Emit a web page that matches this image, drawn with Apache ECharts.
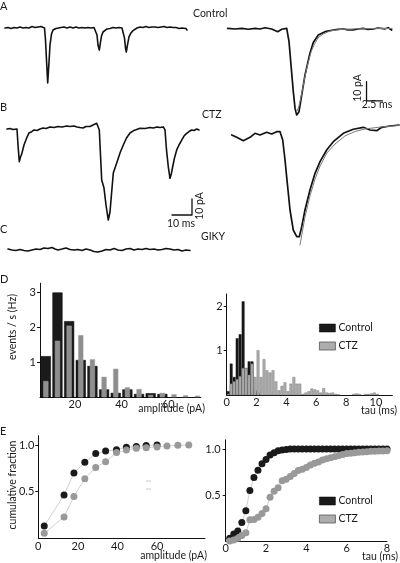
<!DOCTYPE html>
<html><head><meta charset="utf-8">
<script src="https://cdn.jsdelivr.net/npm/echarts@6/dist/echarts.min.js"></script>
<style>html,body{margin:0;padding:0;background:#fff}#c{width:400px;height:563px}</style>
</head><body><div id="c"></div>
<script>
// ---------------- DATA ----------------
// raw traces: [time (ms), current (pA)]
const traceControl = [[0.5,0],[2,0.3],[3.5,-0.3],[5,0.3],[6.5,0],[8,0.6],[9.5,0],[11,0.3],[12.5,0],[14,0.9],[15.5,0.3],[17,0.6],[18.5,0.9],[19.5,0.3],[20.25,0],[20.75,-7.5],[21.25,-20],[21.85,-34.4],[22.5,-21.3],[23,-10.6],[23.75,-3.8],[24.5,-1.3],[26,-0.3],[27,0.6],[28.5,0.3],[30,0.6],[31.5,0],[33,0.6],[34.5,0],[36,0.6],[37.5,0],[39,0.3],[40.5,0],[42,0.3],[43.5,0],[45,0.3],[46,0],[46.5,-4.4],[47,-10.6],[47.65,-13.8],[48.25,-8.8],[48.75,-5],[49.5,-2.5],[50.5,-1.6],[51.5,-0.6],[53,-0.3],[54.5,0.3],[56,0],[57.5,0.3],[59,0],[59.75,0],[60.25,-6.3],[60.75,-12.5],[61.15,-15],[61.75,-10.6],[62.5,-5.6],[63.5,-3.1],[64.5,-1.6],[65.5,-0.6],[66.5,0],[68,0.6],[69.5,0.3],[71,0.9],[72.5,0.3],[74,0.6],[75.5,0.6],[77,0.3],[78.5,0.6],[80,0.9],[81.5,0.3],[83,0.6],[84.5,0.3],[86,0.3],[87.5,-0.3],[89,0],[90,-0.6],[91,-0.3],[91.5,-1.3]];
const traceCtz = [[1.5,0],[3,0.3],[4.5,-0.3],[5.5,0.3],[6.5,0],[7,-10],[7.65,-20.4],[8.25,-17.5],[8.85,-15.6],[10,-10],[11.35,-5.6],[12.5,-2.5],[13.85,-1.7],[15,-0.6],[16.5,-0.9],[18,0],[19.5,0.6],[21,0.3],[23,1.3],[25,0.9],[27,1.6],[29,1.3],[31.35,1.9],[33,1.6],[35,1.9],[36.5,1.3],[38,0.9],[39.5,0.6],[41,1.6],[43,1.6],[44.5,2.5],[46.35,3.6],[47.25,2.5],[47.65,-0.6],[48.25,-16.3],[48.85,-31.9],[50,-36.9],[51,-47.5],[52.15,-56.9],[53,-51.9],[53.5,-44.4],[54.65,-27.5],[56.35,-21.3],[58,-15],[59.65,-10],[61.25,-5.6],[63,-2.5],[65,-0.9],[68,0.4],[70.5,0.3],[73,0.9],[74.65,0.6],[76.5,1.3],[78,0.9],[79.65,1.3],[80.5,-0.6],[81.25,-13.1],[82.15,-23.6],[83,-30.8],[83.65,-28.1],[84.35,-23.6],[85.25,-18.1],[86.35,-13.1],[87.5,-10],[88.85,-6.9],[90,-4.4],[91.35,-2.7],[92.5,-1.6],[93.85,-0.6],[95,-0.9],[96.35,0],[97.5,-0.6]];
const traceGiky = [[2,0.6],[4,0],[6,-0.3],[8,0.3],[10,-0.3],[12,-0.6],[14,0],[16,0.6],[18,0.3],[20,1.3],[22,0.9],[24,1.6],[25.5,0.6],[27,0],[29,0.6],[31,1.3],[33,0.3],[35,0],[37,0.3],[39,-0.3],[41,0.6],[43,0],[45,-0.9],[47,-1.3],[49,-0.6],[51,0.3],[53,0],[55,0.9],[57,0],[59,-0.3],[61,0.6],[63,0.9],[65,0],[67,0.6],[69,0.3],[71,0.9],[73,0.3],[75,0.6],[77,0],[79,0.3],[81,0.9],[83,0.6],[85,0],[87,0.3],[89,-0.6],[91,0],[93,-0.3]];
// averaged events and fits: [time (ms), current (pA)]
const avgControl = [[0.1,0.1],[1.25,-0.26],[2.3,0.1],[3.33,-0.4],[4.38,0.1],[5.16,-0.26],[5.94,0.4],[6.98,-0.26],[7.92,-1.66],[8.55,-0.4],[9.33,0.1],[9.69,-6.8],[10.0,-18.9],[10.36,-32.7],[10.63,-41.3],[10.89,-44.8],[11.25,-43.1],[11.67,-34.5],[12.19,-24.1],[12.97,-12.7],[13.48,-7.3],[14.27,-3.4],[15.31,-1.66],[16.61,-0.78],[17.34,-0.5],[18.17,-0.26],[18.9,-0.67],[19.73,-0.78],[20.47,-0.26],[21.3,0.1],[22.03,-0.5],[22.86,-0.26],[23.6,0.26],[23.9,0.1],[24.7,-0.16],[25.2,0.4],[25.73,-0.78]];
const fitControl = [[10.86,-43.3],[11.25,-40.2],[11.72,-32.9],[12.19,-24.6],[12.66,-17.9],[13.13,-12.2],[13.59,-8.5],[14.22,-4.9],[15.0,-2.85],[16.1,-1.3],[17.66,-0.5],[20.0,-0.16],[23.1,-0.05],[25.8,0]];
const avgCtz = [[0.11,-0.52],[0.89,-1.71],[1.92,-3.47],[2.97,-1.71],[3.75,0.36],[4.53,-0.52],[5.58,0.88],[6.36,0],[7.14,1.19],[7.66,1.19],[8.08,-3.11],[8.44,-13.47],[8.8,-25.54],[9.22,-39.38],[9.73,-49.74],[10.27,-53.21],[10.67,-53.21],[11.05,-48.03],[11.56,-39.38],[12.34,-29.02],[13.13,-20.36],[13.91,-14.35],[14.95,-8.29],[15.98,-3.99],[17.55,0.36],[19.11,2.44],[20.67,3.47],[21.72,2.07],[22.77,1.71],[23.55,3.47],[24.84,4.15],[26.25,4.66]];
const fitCtz = [[10.78,-57.5],[11.09,-51.8],[11.56,-43.0],[12.34,-32.1],[13.13,-23.3],[13.91,-16.6],[15.0,-9.8],[16.25,-5.2],[17.81,-1.0],[19.38,1.3],[20.94,2.6],[23.28,3.6],[26.25,4.4]];
// scale bars: [time (ms), current (pA)]
const scaleBarAvg = [[21.8,-27.5],[21.8,-37.5],[24.3,-37.5]];   // 10 pA, 2.5 ms
const scaleBarRaw = [[94,-43.75],[94,-53.75],[84,-53.75]];      // 10 pA, 10 ms

// amplitude histogram (bin centres, pA) and event rates (Hz)
const ampBins = [7.5,12.5,17.5,22.5,27.5,32.5,37.5,42.5,47.5,52.5,57.5,62.5,67.5,72.5];
const ampControl = [1.16,2.98,2.16,1.05,0.88,0.21,0.11,0.21,0.08,0.10,0.08,0,0,0];
const ampCtz = [0.45,1.60,2.03,1.76,1.07,0.57,0.80,0.27,0.22,0.05,0.11,0.07,0.04,0.03];
// tau histogram (bin centres, ms)
const tauBins = [0.1,0.3,0.5,0.7,0.9,1.1,1.3,1.5,1.7,1.9,2.1,2.3,2.5,2.7,2.9,3.1,3.3,3.5,3.7,3.9,4.1,4.3,4.5,4.7,4.9,5.1,5.3,5.5,5.7,5.9,6.1,6.3,6.5,6.7,6.9,7.1,7.3,7.5,7.7,7.9,8.1,8.3,8.5,8.7,8.9,9.1,9.3,9.5,9.7,9.9,10.1];
const tauControl = [0.08,0.7,0.4,1.27,1.36,2.1,0.6,0.75,0.75,0.1,0.05,0,0,0,0,0,0,0,0,0,0,0,0,0,0,0,0,0,0,0,0,0,0,0,0,0,0,0,0,0,0,0,0,0,0,0,0,0,0,0,0];
const tauCtz = [0.02,0.25,0.3,0.35,0.42,0.6,0.6,0.45,0.7,0.4,1.0,0.4,0.8,0.55,0.5,0.55,0.3,0.1,0.2,0.28,0.08,0.25,0.4,0.25,0.25,0.02,0.05,0.08,0.14,0.12,0.1,0.05,0.15,0.05,0.04,0.05,0.02,0.01,0,0,0,0,0.02,0.03,0.02,0,0.02,0.02,0.03,0.05,0.02];
// cumulative amplitude
const cumAmpX = [3,13,18,23.5,29,34,39.5,44.5,49.5,54.5,60,65,70.5,76];
const cumAmpControl = [0.133,0.465,0.70,0.815,0.91,0.935,0.95,0.975,0.985,0.995,1.0];
const cumAmpCtz = [0.055,0.23,0.45,0.64,0.76,0.82,0.92,0.946,0.965,0.97,0.98,0.99,0.997,1.0];
// cumulative tau
const cumTauX = [0.2,0.4,0.6,0.8,1.0,1.2,1.4,1.6,1.8,2.0,2.2,2.4,2.6,2.8,3.0,3.2,3.4,3.6,3.8,4.0,4.2,4.4,4.6,4.8,5.0,5.2,5.4,5.6,5.8,6.0,6.2,6.4,6.6,6.8,7.0,7.2,7.4,7.6,7.8,8.0];
const cumTauControl = [0.03,0.076,0.11,0.2,0.33,0.55,0.69,0.77,0.84,0.885,0.935,0.96,0.98,0.99,0.995,1,1,1,1,1,1,1,1,1,1,1,1,1,1,1,1,1,1,1,1,1,1,1,1,1];
const cumTauCtz = [0.0,0.01,0.03,0.06,0.09,0.23,0.235,0.257,0.30,0.35,0.475,0.54,0.58,0.655,0.67,0.70,0.735,0.765,0.78,0.80,0.826,0.844,0.86,0.88,0.895,0.906,0.917,0.928,0.94,0.95,0.953,0.96,0.964,0.967,0.971,0.975,0.975,0.978,0.978,0.982];

// ---------------- CHART ----------------
const FONT = 'Lato, "Open Sans", sans-serif';
const TXT = '#1a1a1a';
const chart = echarts.init(document.getElementById('c'), null, {renderer:'canvas'});

function tg(x0, y0, pxT, pxI, tMax, iMin, iMax){
  return {grid:{left:x0, top:y0 - iMax*pxI, width:tMax*pxT, height:(iMax-iMin)*pxI, outerBoundsMode:'none'},
          x:{min:0, max:tMax}, y:{min:iMin, max:iMax}};
}
const traceGrids = [
  tg(4, 28, 2, 1.6, 96, -36, 5),          // 0 A raw
  tg(227, 28.5, 6.4, 1.93, 27, -48, 5),   // 1 A avg
  tg(4, 129, 2, 1.6, 100, -60, 5),        // 2 B raw
  tg(231, 134, 6.4, 1.93, 27, -60, 8),    // 3 B avg
  tg(4, 250, 2, 1.6, 100, -6, 6)          // 4 C raw
];
const grids = traceGrids.map(g => g.grid).concat([
  {left:40, top:283.25, width:160.8, height:113.75, outerBoundsMode:'none'},   // 5 D amp
  {left:226.7, top:294, width:165.7, height:101, outerBoundsMode:'none'},      // 6 D tau
  {left:38.3, top:435.7, width:166.7, height:102.7, outerBoundsMode:'none'},   // 7 E amp
  {left:225.7, top:439.8, width:161.3, height:101.2, outerBoundsMode:'none'}   // 8 E tau
]);

const xAxes = [], yAxes = [];
traceGrids.forEach((g, i) => {
  xAxes.push({type:'value', gridIndex:i, min:g.x.min, max:g.x.max, show:false});
  yAxes.push({type:'value', gridIndex:i, min:g.y.min, max:g.y.max, show:false});
});
const axLine = {show:true, onZero:false, lineStyle:{color:'#111', width:1}};
const lbl = (vals, extra) => Object.assign({customValues:vals, fontSize:11, color:TXT, fontFamily:FONT}, extra||{});
// 5 D amp
xAxes.push({type:'value', gridIndex:5, min:5, max:74, axisLine:axLine, splitLine:{show:false},
  axisTick:{show:false}, axisLabel:lbl([20,40,60], {margin:2})});
yAxes.push({type:'value', gridIndex:5, min:0, max:3.25, axisLine:axLine, splitLine:{show:false},
  axisTick:{show:true, length:3, customValues:[1,2,3], lineStyle:{color:'#111'}}, axisLabel:lbl([1,2,3], {margin:4})});
// 6 D tau
xAxes.push({type:'value', gridIndex:6, min:0, max:11.1, axisLine:axLine, splitLine:{show:false},
  axisTick:{show:false}, axisLabel:lbl([0,2,4,6,8,10], {margin:2})});
yAxes.push({type:'value', gridIndex:6, min:0, max:2.27, axisLine:axLine, splitLine:{show:false},
  axisTick:{show:true, length:3, customValues:[1,2], lineStyle:{color:'#111'}}, axisLabel:lbl([1,2], {margin:4})});
// 7 E amp
xAxes.push({type:'value', gridIndex:7, min:0, max:84.2, axisLine:axLine, splitLine:{show:false},
  axisTick:{show:false}, axisLabel:lbl([0,20,40,60], {margin:3})});
yAxes.push({type:'value', gridIndex:7, min:0, max:1.1, axisLine:axLine, splitLine:{show:false},
  axisTick:{show:true, length:3, customValues:[0.5,1], lineStyle:{color:'#111'}},
  axisLabel:lbl([0.5,1], {margin:4, formatter:v => Number(v).toFixed(1)})});
// 8 E tau
xAxes.push({type:'value', gridIndex:8, min:0, max:8, axisLine:axLine, splitLine:{show:false},
  axisTick:{show:false}, axisLabel:lbl([0,2,4,6,8], {margin:2})});
yAxes.push({type:'value', gridIndex:8, min:0, max:1.1, axisLine:axLine, splitLine:{show:false},
  axisTick:{show:true, length:3, customValues:[0.5,1], lineStyle:{color:'#111'}},
  axisLabel:lbl([0.5,1], {margin:5, formatter:v => Number(v).toFixed(1)})});

function traceSeries(name, idx, data, color, width){
  return {type:'line', name, xAxisIndex:idx, yAxisIndex:idx, data, symbol:'none', showSymbol:false,
    lineStyle:{color, width, join:'round', cap:'round'}, silent:true, z:3};
}
function histRender(binW, frac, fill, stroke, lw){
  return function(params, api){
    const c = api.value(0), v = api.value(1);
    if (!(v > 0)) return null;
    const a = api.coord([c - binW*frac/2, v]);
    const b = api.coord([c + binW*frac/2, 0]);
    return {type:'rect', shape:{x:a[0], y:a[1], width:b[0]-a[0], height:b[1]-a[1]},
      style:{fill, stroke, lineWidth:lw}};
  };
}
function hist(name, idx, bins, vals, binW, frac, fill, stroke, lw, z){
  return {type:'custom', name, xAxisIndex:idx, yAxisIndex:idx, encode:{x:0, y:1},
    data: bins.map((c, i) => [c, vals[i]]), renderItem: histRender(binW, frac, fill, stroke, lw), z, silent:true};
}
function cum(name, idx, xs, ys, color){
  return {type:'line', name, xAxisIndex:idx, yAxisIndex:idx, data: ys.map((v, i) => [xs[i], v]),
    symbol:'circle', symbolSize:7, showSymbol:true, itemStyle:{color, borderWidth:0},
    lineStyle:{color:'#c4c4c4', width:0.8}, silent:true};
}

const BLACK = '#1a1a1a', GREY = '#999999', LGREY = '#adadad';

const series = [
  traceSeries('Control', 0, traceControl, '#111', 1.6),
  traceSeries('Control', 1, avgControl, '#111', 1.7),
  traceSeries('fit', 1, fitControl, '#7a7a7a', 1),
  traceSeries('scale', 1, scaleBarAvg, '#111', 1.3),
  traceSeries('CTZ', 2, traceCtz, '#111', 1.6),
  traceSeries('scale', 2, scaleBarRaw, '#111', 1.3),
  traceSeries('CTZ', 3, avgCtz, '#111', 1.7),
  traceSeries('fit', 3, fitCtz, '#7a7a7a', 1),
  traceSeries('GIKY', 4, traceGiky, '#111', 1.6),
  hist('Control', 5, ampBins, ampControl, 5, 0.82, BLACK, '#000', 0.5, 2),
  hist('CTZ', 5, ampBins, ampCtz, 5, 0.4, '#8e8e8e', '#a0a0a0', 0.5, 3),
  hist('Control', 6, tauBins, tauControl, 0.2, 0.8, BLACK, '#000', 0.4, 2),
  hist('CTZ', 6, tauBins, tauCtz, 0.2, 0.8, LGREY, '#707070', 0.4, 3),
  cum('Control', 7, cumAmpX, cumAmpControl, BLACK),
  cum('CTZ', 7, cumAmpX, cumAmpCtz, GREY),
  cum('Control', 8, cumTauX, cumTauControl, BLACK),
  cum('CTZ', 8, cumTauX, cumTauCtz, GREY)
];

const legendBase = {orient:'vertical', icon:'rect', itemWidth:16, itemHeight:8, itemGap:6, selectedMode:false,
  textStyle:{fontSize:10.5, fontFamily:FONT, color:TXT, lineHeight:12, padding:[0,0,0,-2]},
  data:[{name:'Control', itemStyle:{color:BLACK, borderColor:'#000', borderWidth:0.5}},
        {name:'CTZ', itemStyle:{color:LGREY, borderColor:'#555', borderWidth:0.8}}]};

function t(text, x, y, opt){
  return Object.assign({type:'text', x, y, silent:true,
    style:Object.assign({text, fontSize:10.5, fontFamily:FONT, fill:TXT, align:'left', verticalAlign:'middle'}, (opt&&opt.style)||{})},
    opt && opt.rotation ? {rotation:opt.rotation} : {});
}
const R = Math.PI/2;
const graphic = [
  t('A', 0, 6, {style:{fontSize:11}}),
  t('B', 0, 107, {style:{fontSize:11}}),
  t('C', 0, 229, {style:{fontSize:11}}),
  t('D', 0, 279, {style:{fontSize:11}}),
  t('E', 0, 431, {style:{fontSize:11}}),
  t('Control', 193, 14),
  t('CTZ', 202, 115),
  t('GIKY', 201, 237),
  t('10 pA', 358, 88, {rotation:R, style:{align:'center'}}),
  t('2.5 ms', 377, 105, {style:{align:'center'}}),
  t('10 ms', 181, 224, {style:{align:'center'}}),
  t('10 pA', 200, 206, {rotation:R, style:{align:'center'}}),
  t('events / s (Hz)', 13, 327, {rotation:R, style:{align:'center'}}),
  t('amplitude (pA)', 205, 409, {style:{align:'right'}}),
  t('tau (ms)', 397, 411, {style:{align:'right'}}),
  t('cumulative fraction', 13, 485, {rotation:R, style:{align:'center'}}),
  t('amplitude (pA)', 207, 556, {style:{align:'right'}}),
  t('tau (ms)', 398, 557, {style:{align:'right'}}),
  {type:'line', silent:true, shape:{x1:146, y1:481, x2:151, y2:481}, style:{stroke:'#c8c8c8', lineWidth:1}},
  {type:'line', silent:true, shape:{x1:146, y1:489, x2:151, y2:489}, style:{stroke:'#c8c8c8', lineWidth:1}}
];

chart.setOption({
  animation:false,
  backgroundColor:'#fff',
  textStyle:{fontFamily:FONT},
  grid:grids, xAxis:xAxes, yAxis:yAxes, series,
  legend:[Object.assign({left:314, top:317}, legendBase), Object.assign({left:314, top:490}, legendBase)],
  graphic
});
</script></body></html>
